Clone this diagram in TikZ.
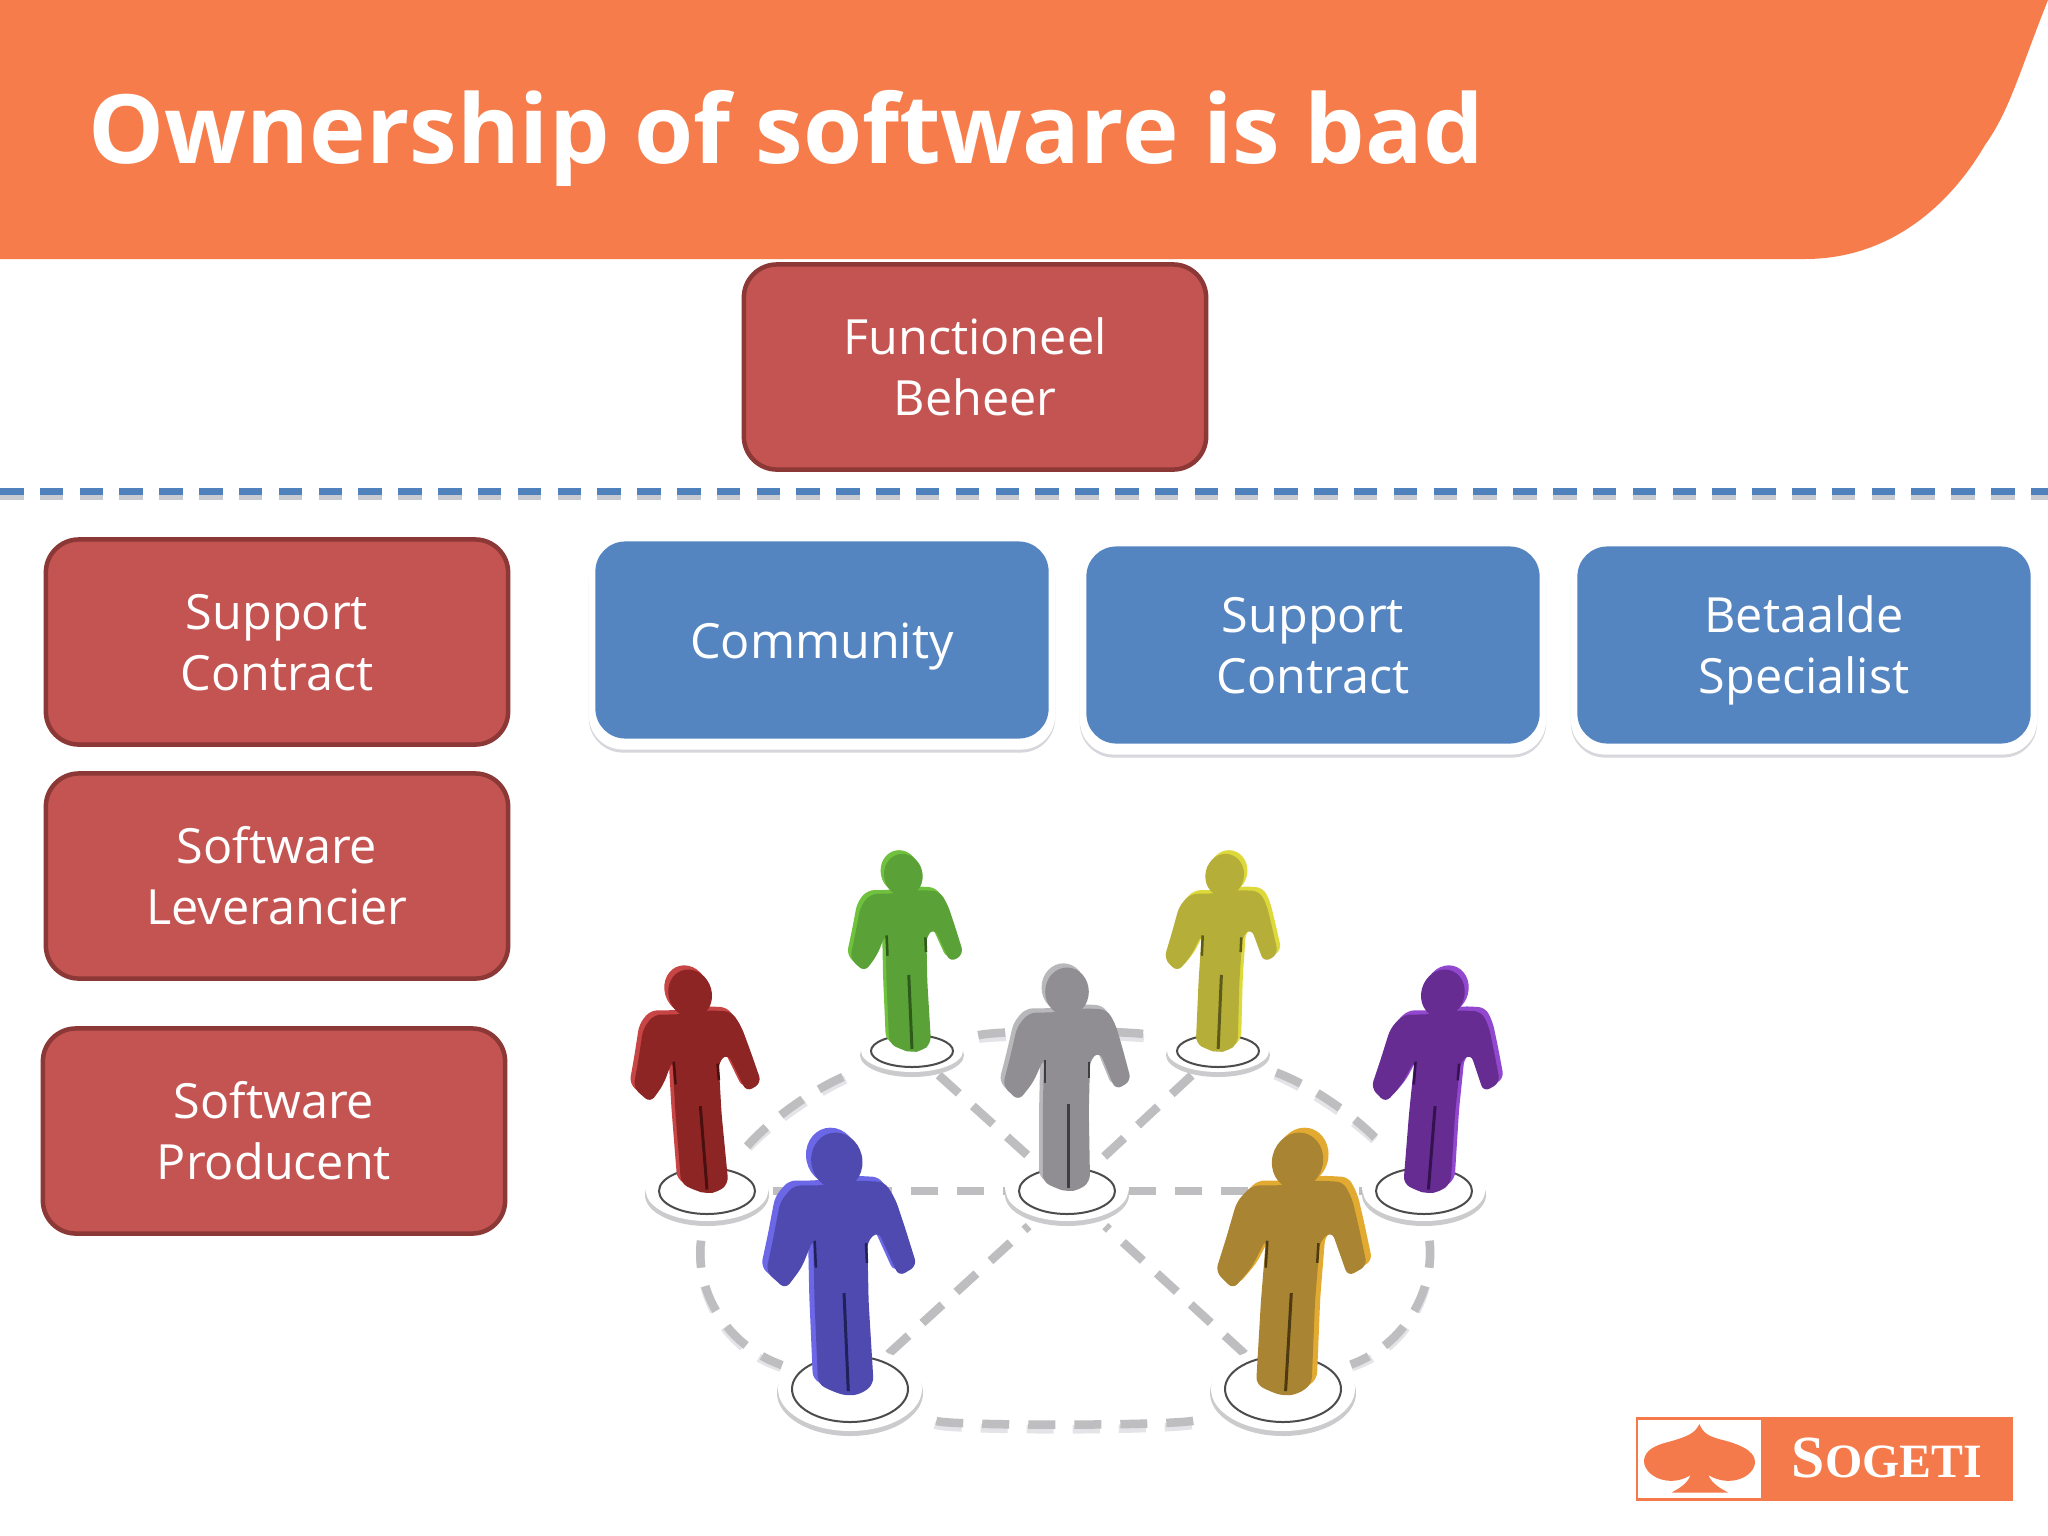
\documentclass[tikz,border=0pt]{standalone}
\usepackage{fontspec}
\setmainfont{Open Sans}
\newfontfamily\logofont{Liberation Serif}
\usetikzlibrary{shapes.geometric}
\definecolor{bannerorange}{HTML}{F67D4B}
\definecolor{logoorange}{HTML}{F47A4B}
\definecolor{redfill}{HTML}{C45452}
\definecolor{redline}{HTML}{8C3836}
\definecolor{bluefill}{HTML}{5585C0}
\definecolor{dashblue}{HTML}{4F81BD}
\definecolor{dashshadow}{HTML}{C8CCD2}
\definecolor{linkgrey}{HTML}{BEBEC0}
\definecolor{linklight}{HTML}{E4E4E8}
\definecolor{bevelgrey}{HTML}{D6D6DC}
\definecolor{greenL}{HTML}{6FC13E}\definecolor{greenM}{HTML}{5AA237}\definecolor{greenD}{HTML}{2E5A1C}
\definecolor{yellowL}{HTML}{DDD93B}\definecolor{yellowM}{HTML}{B5AE38}\definecolor{yellowD}{HTML}{5E5A1C}
\definecolor{redL}{HTML}{C74545}\definecolor{redM}{HTML}{8E2525}\definecolor{redD}{HTML}{4A1010}
\definecolor{purpleL}{HTML}{9248CE}\definecolor{purpleM}{HTML}{662C91}\definecolor{purpleD}{HTML}{33124F}
\definecolor{greyL}{HTML}{B8B8BB}\definecolor{greyM}{HTML}{908E93}\definecolor{greyD}{HTML}{3E3E42}
\definecolor{blueL}{HTML}{6B67E6}\definecolor{blueM}{HTML}{4F4AB0}\definecolor{blueD}{HTML}{20205A}
\definecolor{goldL}{HTML}{E2AA30}\definecolor{goldM}{HTML}{A98432}\definecolor{goldD}{HTML}{4E3A10}
\newcommand{\lbl}[1]{\raisebox{-.18cm}[0pt][0pt]{#1}}
\tikzset{
  x=0.01cm,y=-0.01cm,
  redbox/.style={draw=redline,line width=.045cm,fill=redfill,rounded corners=.33cm,minimum width=4.62cm,minimum height=2.05cm,align=center,text=white,font=\fontsize{13.8}{17.4}\selectfont,inner sep=0pt},
  bluebox/.style={fill=bluefill,rounded corners=.3cm,minimum width=4.53cm,minimum height=1.97cm,align=center,text=white,font=\fontsize{13.8}{17.4}\selectfont,inner sep=0pt},
  bevelbox/.style={fill=white,rounded corners=.34cm,minimum width=4.66cm,minimum height=2.07cm,inner sep=0pt},
  bevelshade/.style={bevelbox,fill=bevelgrey},
  link/.style={line width=.085cm,draw=linkgrey,dash pattern=on .27cm off .19cm},
  linkside/.style={line width=.085cm,draw=linklight,dash pattern=on .27cm off .19cm},
  discring/.style={draw=black!70,line width=.02cm,fill=white},
}
% #1 x, #2 y (foot, px), #3 size, #4 slant, #5 colour stem, #6 light offset in x
\newcommand{\figureperson}[6]{%
  \begin{scope}[shift={(#1,#2)},xscale=.606*#3,yscale=.4167*#3,xslant=#4,shift={(-770,-888)}]
    \foreach \dx/\dy/\col in {#6/-10/#5L,0/0/#5M}{
      \begin{scope}[shift={(\dx,\dy)}]
        \fill[\col,rounded corners=.07cm] (745,462) -- (708,462) -- (688,495) -- (676,570) -- (664,638) -- (690,674) -- (714,630) -- (732,572)
          -- (730,700) -- (730,868) -- (752,884) -- (770,892) -- (790,888) -- (808,868) -- (806,700) -- (808,575)
          -- (824,556) -- (850,648) -- (876,626) -- (862,550) -- (850,490) -- (836,455) -- (800,452) -- cycle;
        \fill[\col] (770,412) ellipse [x radius=36,y radius=58];
      \end{scope}
    }
    \draw[#5D,line width=.03cm] (772,682) -- (772,882);
    \draw[#5D,line width=.025cm] (734,575) -- (734,630);
    \draw[#5D,line width=.025cm] (806,580) -- (806,620);
  \end{scope}}
\begin{document}
\begin{tikzpicture}
\useasboundingbox (0,0) rectangle (2048,1536);
\clip (0,0) rectangle (2048,1536);
\fill[white] (0,0) rectangle (2048,1536);
% banner
\fill[bannerorange] (0,0) -- (2048,0) .. controls (2020,70) and (2010,110) .. (1985,145) .. controls (1950,205) and (1890,259) .. (1805,259) -- (0,259) -- cycle;
\node[anchor=base west,text=white,inner sep=0pt,font=\bfseries\fontsize{27.2}{34}\selectfont] (title) at (88,163) {Ownership of software is bad};
% separator
\coordinate (sepL) at (0,491);
\coordinate (sepR) at (2048,491);
\coordinate (sepLs) at (0,497);
\coordinate (sepRs) at (2048,497);
\draw[dashshadow,line width=.06cm,dash pattern=on .235cm off .163cm] (sepLs) -- (sepRs);
\draw[dashblue,line width=.07cm,dash pattern=on .235cm off .163cm] (sepL) -- (sepR);
% red boxes
\node[redbox] (fb) at (975,367) {\lbl{Functioneel}\\\lbl{Beheer}};
\node[redbox] (sc) at (277,642) {\lbl{Support}\\\lbl{Contract}};
\node[redbox] (sl) at (277,876) {\lbl{Software}\\\lbl{Leverancier}};
\node[redbox] (sp) at (274,1131) {\lbl{Software}\\\lbl{Producent}};
% blue boxes
\node[bevelshade] (bsA) at (822,649) {};
\node[bevelshade] (bsB) at (1313,654) {};
\node[bevelshade] (bsC) at (1804,654) {};
\node[bevelbox] (bvA) at (822,646) {};
\node[bevelbox] (bvB) at (1313,651) {};
\node[bevelbox] (bvC) at (1804,651) {};
\node[bluebox] (cm) at (822,640) {\lbl{Community}};
\node[bluebox] (sb) at (1313,645) {\lbl{Support}\\\lbl{Contract}};
\node[bluebox] (bs) at (1804,645) {\lbl{Betaalde}\\\lbl{Specialist}};
% people network: disc centres
\coordinate (dGreen) at (912,1051);
\coordinate (dYellow) at (1218,1051);
\coordinate (dRed) at (707,1191);
\coordinate (dGrey) at (1067,1191);
\coordinate (dPurple) at (1424,1191);
\coordinate (dBlue) at (850,1389);
\coordinate (dGold) at (1283,1389);
\foreach \off/\sty in {-.05/linkside,0/link}{
  \begin{scope}[yshift=\off cm]
  \draw[\sty,shorten >=.62cm,shorten <=.66cm] (dRed) -- (dGrey);
  \draw[\sty,shorten >=.62cm,shorten <=.62cm] (dGrey) -- (dPurple);
  \draw[\sty,shorten >=.5cm,shorten <=.36cm] (dGreen) -- (dGrey);
  \draw[\sty,shorten >=.5cm,shorten <=.36cm] (dYellow) -- (dGrey);
  \draw[\sty,shorten >=.52cm,shorten <=.52cm] (dBlue) -- (dGrey);
  \draw[\sty,shorten >=.52cm,shorten <=.52cm] (dGold) -- (dGrey);
  \draw[\sty,shorten >=.62cm,shorten <=.6cm] (dRed) .. controls (775,1115) and (820,1085) .. (dGreen);
  \draw[\sty,shorten >=.6cm,shorten <=.62cm] (dYellow) .. controls (1310,1085) and (1355,1115) .. (dPurple);
  \draw[\sty,shorten >=.68cm,shorten <=.68cm] (dGreen) .. controls (1000,1030) and (1130,1030) .. (dYellow);
  \draw[\sty,shorten >=.72cm,shorten <=.5cm] (dRed) .. controls (695,1290) and (725,1345) .. (dBlue);
  \draw[\sty,shorten >=.72cm,shorten <=.5cm] (dPurple) .. controls (1435,1290) and (1405,1345) .. (dGold);
  \draw[\sty,shorten >=.92cm,shorten <=.92cm] (dBlue) .. controls (950,1426) and (1180,1426) .. (dGold);
  \end{scope}
}
% discs
\foreach \n/\rx/\ry/\irx/\iry in {dGreen/51/21/41/16,dYellow/51/21/41/16,dRed/61/30/48/23,dGrey/61/30/48/23,dPurple/61/30/48/23,dBlue/72/42/58/33,dGold/72/42/58/33}{
  \fill[linkgrey!80] (\n) ++(0,4) ellipse [x radius=\rx+1,y radius=\ry+1];
  \fill[white] (\n) ellipse [x radius=\rx,y radius=\ry];
  \draw[discring] (\n) ellipse [x radius=\irx,y radius=\iry];
}
% people
\figureperson{911}{1051}{.886}{-.03}{green}{-6}
\figureperson{1217}{1051}{.886}{.03}{yellow}{6}
\figureperson{706}{1192}{1}{-.055}{red}{-6}
\figureperson{1427}{1192}{1}{.055}{purple}{6}
\figureperson{1067}{1190}{1}{0}{grey}{-6}
\figureperson{847}{1394}{1.175}{-.03}{blue}{-7}
\figureperson{1284}{1394}{1.175}{.04}{gold}{7}
% logo
\node[fill=logoorange,minimum width=3.77cm,minimum height=.84cm,inner sep=0pt] (logo) at (1824.5,1459) {};
\node[fill=white,minimum width=1.23cm,minimum height=.78cm,inner sep=0pt] (logowhite) at (1699.5,1459) {};
\begin{scope}[shift={(1620,1400)},xscale=1/3,yscale=1/3]
\fill[logoorange] (238,72) .. controls (225,100) and (205,110) .. (130,130) .. controls (90,142) and (72,160) .. (72,185) .. controls (75,230) and (150,265) .. (212,225) .. controls (200,255) and (175,265) .. (155,278) -- (325,278) .. controls (300,265) and (275,250) .. (265,225) .. controls (330,265) and (405,230) .. (405,185) .. controls (405,150) and (350,130) .. (300,118) .. controls (265,108) and (250,100) .. (238,72) -- cycle;
\end{scope}
\node[text=white,inner sep=0pt,anchor=base,font=\logofont\bfseries] (logotext) at (1887,1477) {\fontsize{17}{17}\selectfont S\fontsize{13.6}{13.6}\selectfont OGETI};
\end{tikzpicture}
\end{document}
